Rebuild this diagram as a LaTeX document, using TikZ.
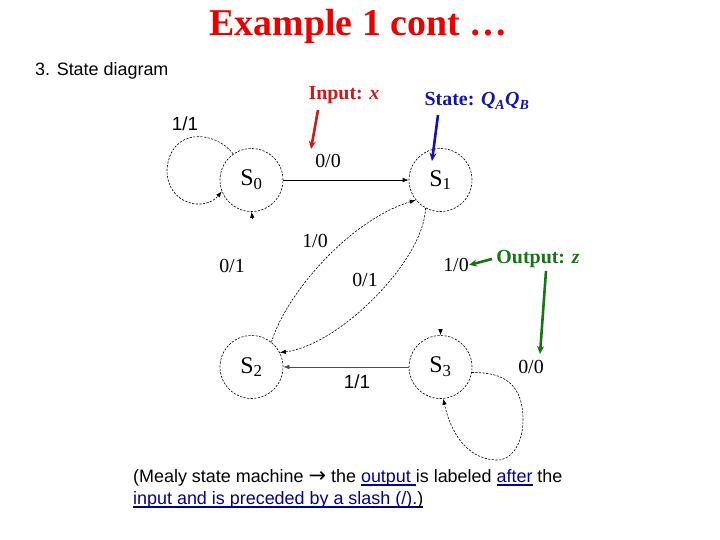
\documentclass[tikz,border=0pt]{standalone}
\usepackage{fontspec}
\setmainfont{Liberation Serif}
\setsansfont{Liberation Sans}
\newfontfamily\arrowfont{DejaVu Sans}
\newcommand\myul[1]{\setbox0\hbox{#1}\rlap{\rule[-3.5bp]{\wd0}{1.1bp}}\box0}
\usetikzlibrary{arrows.meta}
\definecolor{titlered}{RGB}{235,0,0}
\definecolor{inred}{RGB}{205,25,25}
\definecolor{stblue}{RGB}{20,20,170}
\definecolor{outgreen}{RGB}{25,115,25}
\definecolor{linkblue}{RGB}{0,0,150}
\begin{document}
\begin{tikzpicture}[x=1bp,y=-1bp,
  thinline/.style={line width=0.6bp},
  dashline/.style={line width=0.6bp, dash pattern=on 2.2bp off 1.4bp},
  statenode/.style={circle, draw, dashline, minimum size=63bp, inner sep=0pt, font=\fontsize{24}{28}\selectfont},
  arrowtip/.style={-{Latex[length=6bp,width=4.5bp]}},
  annot/.style={line width=2.6bp, -{Stealth[length=8bp,width=7bp]}},
  lbl/.style={font=\fontsize{20}{24}\selectfont, inner sep=0pt},
  slbl/.style={font=\sffamily\fontsize{19}{23}\selectfont, inner sep=0pt},
  anno/.style={font=\bfseries\fontsize{20}{24}\selectfont, inner sep=0pt},
  sanstext/.style={font=\sffamily\fontsize{18}{22}\selectfont, inner sep=0pt, anchor=base west}]
\fill[white] (0,0) rectangle (720,540);
\useasboundingbox (0,0) rectangle (720,540);

% title and headings
\node[font=\bfseries\fontsize{38}{44}\selectfont, text=titlered, anchor=base, inner sep=0pt] (title) at (358.5,36) {Example 1 cont …};
\node[sanstext] (sub) at (35,76) {3. State diagram};

% states
\node[statenode] (S0) at (251.5,180) {S\textsubscript{0}};
\node[statenode] (S1) at (440.5,180) {S\textsubscript{1}};
\node[statenode] (S2) at (251.5,367) {S\textsubscript{2}};
\node[statenode] (S3) at (440.5,367) {S\textsubscript{3}};

% transitions
\draw[thinline, arrowtip] (S0) -- (S1);
\draw[thinline, arrowtip, black!70] (S3) -- (S2);
\draw[dashline, arrowtip] (S2.51) .. controls (283,300) and (345,222) .. (S1.219);
\draw[dashline, arrowtip] (S1.242) .. controls (424,260) and (340,345) .. (S2.27);
\draw[dashline, arrowtip] (S0.125) .. controls (215,130) and (170,127) .. (167,170)
  .. controls (167,205) and (205,212) .. (S0.201);
\draw[dashline, arrowtip] (S3.-10) .. controls (505,372) and (523,385) .. (523,420)
  .. controls (523,445) and (510,462) .. (495,460)
  .. controls (465,458) and (450,430) .. (S3.-85);

% lone arrowheads
\coordinate (c0) at (252.5,219);
\draw[thinline, arrowtip] (c0) -- (S0.south);
\coordinate (c3) at (440.5,329.5);
\draw[thinline, arrowtip] (c3) -- (S3.north);

% transition labels
\node[slbl] (l11a) at (185,124) {1/1};
\node[lbl] (l00a) at (328,161) {0/0};
\node[lbl] (l01a) at (232,266) {0/1};
\node[lbl] (l10a) at (315,241) {1/0};
\node[lbl] (l01b) at (365,280) {0/1};
\node[lbl] (l10b) at (456,265) {1/0};
\node[slbl] (l11b) at (357,382) {1/1};
\node[lbl] (l00b) at (531,367) {0/0};

% annotations
\node[anno, text=inred] (inlab) at (344,95) {Input: \textit{x}};
\node[anno, text=stblue] (stlab) at (477,101) {State: \textit{Q\textsubscript{A}Q\textsubscript{B}}};
\node[anno, text=outgreen] (outlab) at (538,259) {Output: \textit{z}};
\coordinate (ra1) at (318,110); \coordinate (ra2) at (311,149);
\draw[annot, inred] (ra1) -- (ra2);
\coordinate (ba1) at (438,115); \coordinate (ba2) at (432,161);
\draw[annot, stblue] (ba1) -- (ba2);
\coordinate (ga1) at (492,259); \coordinate (ga2) at (469,265);
\draw[annot, outgreen] (ga1) -- (ga2);
\coordinate (gb1) at (546,271); \coordinate (gb2) at (540,354);
\draw[annot, outgreen] (gb1) -- (gb2);

% note
\node[sanstext] (note1) at (133,482) {(Mealy state machine {\arrowfont\fontsize{21}{22}\selectfont →} the \textcolor{linkblue}{\myul{output\ }}is labeled \textcolor{linkblue}{\myul{after}} the};
\node[sanstext] (note2) at (133,504) {\textcolor{linkblue}{\myul{input and is preceded by a slash (/).}}\myul{)}};
\end{tikzpicture}
\end{document}
